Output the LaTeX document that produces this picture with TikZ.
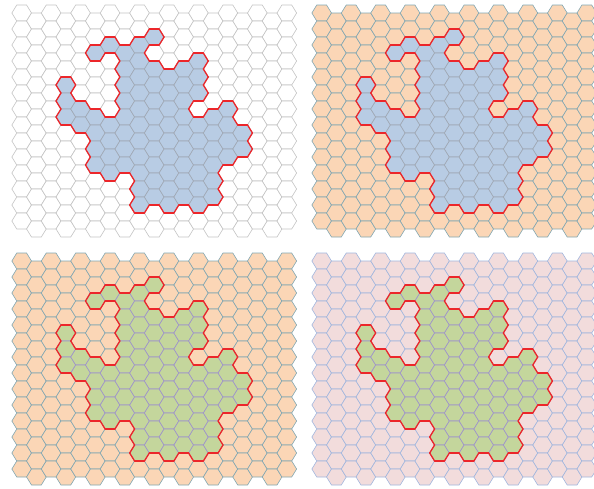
\documentclass[tikz,border=0pt]{standalone}
\usetikzlibrary{calc}
\definecolor{gridgray}{RGB}{196,196,196}
\definecolor{cellblue}{RGB}{184,204,228}
\definecolor{cellpeach}{RGB}{251,214,182}
\definecolor{cellgreen}{RGB}{196,214,156}
\definecolor{cellpink}{RGB}{242,220,220}
\definecolor{edgeteal}{RGB}{128,166,178}
\definecolor{edgeblue}{RGB}{160,182,222}
\definecolor{edgegray}{RGB}{160,168,180}
\definecolor{edgeviolet}{RGB}{158,146,204}
\definecolor{outlinered}{RGB}{236,38,42}

% blob cells as column/first row/last row
\newcommand{\blobcells}{3/4/6,4/6/7,5/2/2,5/6/9,6/2/2,6/7/10,7/2/9,8/2/12,9/1/1,9/3/11,10/4/12,11/3/11,12/3/5,12/7/12,13/6/11,14/6/9,15/7/8}

\tikzset{
  hexcell/.pic={\path[pic actions] (-9.82,0) -- (-4.91,-8) -- (4.91,-8) -- (9.82,0) -- (4.91,8) -- (-4.91,8) -- cycle;},
  blobline/.style={draw=outlinered,line width=1.3pt,line cap=round}
}

% #1,#2 offset, #3 cell fill, #4 cell edge, #5 blob fill, #6 blob edge
\newcommand{\hexpanel}[6]{%
  \begin{scope}[shift={(#1,#2)}]
    \foreach \hc in {0,...,18} \foreach \hr in {0,...,13} {
      \pgfmathsetmacro\hx{21.67+14.73*\hc}
      \pgfmathsetmacro\hy{13+16*\hr+8*mod(\hc,2)}
      \pic[fill=#3,draw=#4,line width=0.6pt] at (\hx,\hy) {hexcell};
    }
    \foreach \hc/\ra/\rb in \blobcells \foreach \hr in {\ra,...,\rb} {
      \pgfmathsetmacro\hx{21.67+14.73*\hc}
      \pgfmathsetmacro\hy{13+16*\hr+8*mod(\hc,2)}
      \pic[fill=#5,draw=#6,line width=0.6pt] at (\hx,\hy) {hexcell};
    }
    % red outline where a neighbour is outside the blob
    \foreach \hc/\ra/\rb in \blobcells \foreach \hr in {\ra,...,\rb} {
      \pgfmathsetmacro\hx{21.67+14.73*\hc}
      \pgfmathsetmacro\hy{13+16*\hr+8*mod(\hc,2)}
      \pgfmathtruncatemacro\isodd{mod(\hc,2)}
      \pgfmathtruncatemacro\colL{\hc-1}
      \pgfmathtruncatemacro\colR{\hc+1}
      \pgfmathtruncatemacro\rowU{\hr-1}
      \pgfmathtruncatemacro\rowD{\hr+1}
      \pgfmathtruncatemacro\rowA{\hr-1+\isodd}
      \pgfmathtruncatemacro\rowB{\hr+\isodd}
      \begin{scope}[shift={(\hx,\hy)}]
        \ifcsname blob-\hc-\rowU\endcsname\else\draw[blobline] (-4.91,-8) -- (4.91,-8);\fi
        \ifcsname blob-\hc-\rowD\endcsname\else\draw[blobline] (-4.91,8) -- (4.91,8);\fi
        \ifcsname blob-\colR-\rowA\endcsname\else\draw[blobline] (4.91,-8) -- (9.82,0);\fi
        \ifcsname blob-\colR-\rowB\endcsname\else\draw[blobline] (9.82,0) -- (4.91,8);\fi
        \ifcsname blob-\colL-\rowA\endcsname\else\draw[blobline] (-4.91,-8) -- (-9.82,0);\fi
        \ifcsname blob-\colL-\rowB\endcsname\else\draw[blobline] (-9.82,0) -- (-4.91,8);\fi
      \end{scope}
    }
  \end{scope}}

\begin{document}
\begin{tikzpicture}[x=1pt,y=-1pt]
  \useasboundingbox (0,0) rectangle (594,488);
  \foreach \hc/\ra/\rb in \blobcells \foreach \hr in {\ra,...,\rb}
    {\expandafter\gdef\csname blob-\hc-\hr\endcsname{}}

  \hexpanel{0}{0}{white}{gridgray}{cellblue}{edgegray}
  \hexpanel{300}{0}{cellpeach}{edgeteal}{cellblue}{edgegray}
  \hexpanel{0}{248}{cellpeach}{edgeteal}{cellgreen}{edgeviolet}
  \hexpanel{300}{248}{cellpink}{edgeblue}{cellgreen}{edgeviolet}
\end{tikzpicture}
\end{document}
